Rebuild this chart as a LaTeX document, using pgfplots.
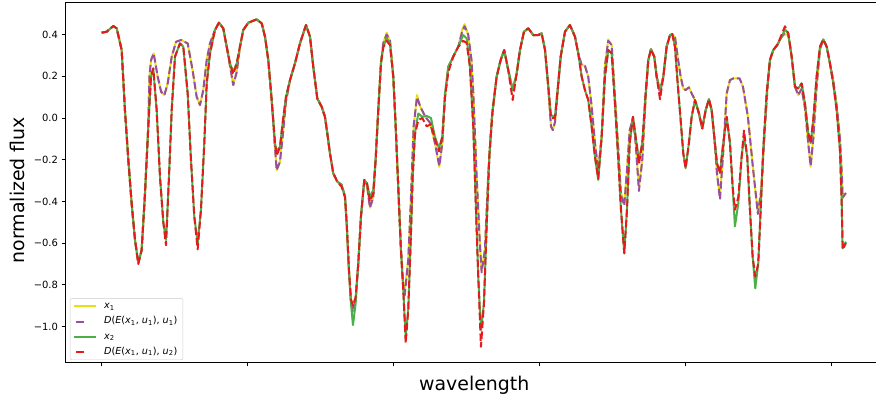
\documentclass[border=0pt]{standalone}
\usepackage{fontspec}
\setmainfont{DejaVu Sans}
\usepackage{pgfplots}
\pgfplotsset{compat=1.18}
\definecolor{cyel}{HTML}{E8E010}
\definecolor{cpur}{HTML}{984EA3}
\definecolor{cgrn}{HTML}{4DAF4A}
\definecolor{cred}{HTML}{E41A1C}
\pgfplotsset{
  solidleg/.style={legend image code/.code={\draw[##1, line width=2bp] (0bp,0bp) -- (22bp,0bp); \path (26.5bp,0bp);}},
  dashleg/.style={legend image code/.code={\draw[##1, solid, line width=2bp] (2.3bp,0bp) -- (10.6bp,0bp); \path (0bp,0bp) (26.5bp,0bp);}},
}
\begin{document}
\begin{tikzpicture}
\path[use as bounding box] (-65bp,-38bp) rectangle (811bp,362bp);
\begin{axis}[
  scale only axis, width=812bp, height=359.5bp,
  xmin=-50.3, xmax=1063, ymin=-1.170, ymax=0.554,
  xtick={0,200,400,600,800,1000}, xticklabels={},
  ytick={-1,-0.8,-0.6,-0.4,-0.2,0,0.2,0.4},
  yticklabels={−1.0,−0.8,−0.6,−0.4,−0.2,0.0,0.2,0.4},
  tick pos=left, tick align=outside, major tick length=3.5bp,
  every tick/.style={black, line width=0.8bp},
  axis line style={line width=0.8bp},
  ticklabel style={font=\fontsize{10}{12}\selectfont},
  xlabel={wavelength}, ylabel={normalized flux},
  every axis x label/.style={at={(axis description cs:0.504,-0.064)}, anchor=center, font=\fontsize{19}{22}\selectfont},
  every axis y label/.style={at={(axis description cs:-0.0591,0.478)}, anchor=center, rotate=90, font=\fontsize{19}{22}\selectfont},
  legend cell align=left,
  legend style={at={(axis description cs:0.006,0.0056)}, anchor=south west,
    draw=black!20, rounded corners=2bp, fill=white, fill opacity=0.8, text opacity=1,
    font=\fontsize{9.7}{11}\selectfont, inner xsep=2.5bp, inner ysep=0.5bp,
    nodes={text height=7.5bp, text depth=2.6bp, inner ysep=2.5bp, inner xsep=3bp}},
  solidleg,
]
\addplot[cyel, line width=2bp, line join=round] table {
x y
0 0.409
6.9 0.414
15.9 0.441
20.6 0.43
27.4 0.326
31.9 0.038
36.5 -0.20
41.1 -0.41
45.7 -0.585
50.2 -0.695
54.8 -0.633
59.4 -0.36
63.9 -0.04
65.4 0.198
67.7 0.278
71.3 0.31
76.8 0.198
81.5 0.126
86.0 0.11
90.5 0.166
96.0 0.294
102.0 0.366
108.9 0.374
117.9 0.358
124.6 0.23
130.2 0.102
134.8 0.062
139.3 0.134
144.0 0.278
148.5 0.358
155.3 0.422
160.8 0.457
166.7 0.43
171.4 0.342
175.9 0.25
180.4 0.158
185.1 0.22
189.6 0.342
194.1 0.422
201.0 0.457
212.5 0.473
219.4 0.454
223.9 0.39
228.4 0.278
233.1 0.086
237.6 -0.14
239.9 -0.25
244.4 -0.21
248.1 -0.09
252.7 0.08
258.2 0.182
265.0 0.262
271.9 0.358
280.1 0.446
285.6 0.39
290.1 0.246
295.6 0.094
301.6 0.054
306.1 0.006
309.3 -0.073
313.0 -0.17
317.5 -0.265
323.0 -0.305
329.0 -0.32
333.6 -0.377
335.9 -0.505
339.0 -0.73
341.8 -0.87
344.5 -0.90
348.2 -0.86
351.8 -0.697
355.5 -0.473
360.0 -0.297
363.7 -0.32
367.8 -0.43
372.4 -0.38
375.6 -0.20
379.2 0.038
382.9 0.262
386.1 0.36
390.7 0.409
395.3 0.37
399.8 0.198
403.1 -0.042
406.6 -0.33
410.3 -0.63
413.5 -0.80
415.5 -0.83
420.3 -0.68
423.6 -0.42
427.7 -0.04
432.3 0.11
436.9 0.054
443.8 0.006
450.6 -0.025
456.9 -0.12
462.9 -0.234
467.0 -0.12
470.7 0.10
475.2 0.246
482.0 0.294
488.9 0.342
494.0 0.42
497.5 0.45
502.5 0.40
507.0 0.278
509.5 0.12
514.1 -0.28
518.5 -0.60
520.9 -0.73
525.4 -0.633
529.9 -0.28
534.6 -0.01
541.5 0.198
547.0 0.278
551.9 0.326
557.4 0.23
563.5 0.134
569.0 0.214
573.5 0.326
579.0 0.414
584.9 0.43
591.7 0.398
598.6 0.398
603.2 0.406
607.8 0.326
612.3 0.15
616.0 -0.04
618.5 -0.058
621.5 -0.02
624.6 0.10
629.3 0.294
635.2 0.414
642.0 0.446
648.9 0.39
653.4 0.31
658.1 0.254
662.6 0.25
667.1 0.198
671.8 0.054
676.3 -0.12
680.8 -0.25
685.5 -0.09
690.0 0.25
694.5 0.377
699.2 0.35
703.7 0.10
708.3 -0.15
712.0 -0.36
716.5 -0.41
720.2 -0.25
723.9 -0.06
728.4 0.0
732.1 -0.12
736.6 -0.33
741.2 -0.20
745.8 0.10
749.4 0.278
753.1 0.33
757.6 0.294
760.9 0.198
765.5 0.134
770.0 0.198
774.6 0.342
779.2 0.398
782.3 0.40
786.0 0.39
789.7 0.294
793.8 0.198
797.4 0.142
800.6 0.134
805.1 0.147
808.9 0.118
813.4 0.086
818.9 0.022
823.4 -0.05
828.1 0.038
832.6 0.09
836.3 0.038
839.9 -0.09
843.6 -0.265
847.7 -0.377
852.2 -0.16
856.9 0.118
861.4 0.182
866.0 0.19
874.6 0.19
879.2 0.15
886.0 0.006
892.8 -0.234
899.7 -0.457
904.3 -0.345
908.9 -0.07
913.0 0.15
916.2 0.278
920.7 0.326
926.2 0.35
932.3 0.39
936.8 0.40
941.3 0.40
946.0 0.294
950.5 0.15
955.0 0.11
959.7 0.14
964.2 0.05
968.7 -0.12
972.0 -0.234
975.6 -0.10
980.2 0.15
984.8 0.33
989.3 0.377
994.0 0.342
998.5 0.262
1003.0 0.18
1007.7 0.06
1012.2 -0.10
1014.5 -0.25
1015.9 -0.385
1020.4 -0.358
};
\addlegendentry{\textit{x}\textsubscript{1}}
\addplot[cpur, line width=2bp, line join=round, dash pattern=on 7.4bp off 3.2bp, dashleg] table {
x y
0 0.409
6.9 0.414
15.9 0.441
20.6 0.43
27.4 0.326
31.9 0.038
36.5 -0.20
41.1 -0.41
45.7 -0.585
50.2 -0.695
54.8 -0.633
59.4 -0.36
63.9 -0.04
65.4 0.198
67.7 0.278
71.3 0.31
76.8 0.198
81.5 0.126
86.0 0.11
90.5 0.166
96.0 0.294
102.0 0.366
108.9 0.374
117.9 0.358
124.6 0.23
130.2 0.102
134.8 0.062
139.3 0.134
144.0 0.278
148.5 0.358
155.3 0.422
160.8 0.457
166.7 0.43
171.4 0.342
175.9 0.25
180.4 0.158
185.1 0.22
189.6 0.342
194.1 0.422
201.0 0.457
212.5 0.473
219.4 0.454
223.9 0.39
228.4 0.278
233.1 0.086
237.6 -0.14
239.9 -0.25
244.4 -0.21
248.1 -0.09
252.7 0.08
258.2 0.182
265.0 0.262
271.9 0.358
280.1 0.446
285.6 0.39
290.1 0.246
295.6 0.094
301.6 0.054
306.1 0.006
309.3 -0.073
313.0 -0.17
317.5 -0.265
323.0 -0.305
329.0 -0.32
333.6 -0.377
335.9 -0.505
339.0 -0.73
341.8 -0.89
344.5 -0.93
348.2 -0.87
351.8 -0.697
355.5 -0.473
360.0 -0.297
363.7 -0.32
367.8 -0.43
372.4 -0.38
375.6 -0.20
379.2 0.038
382.9 0.262
386.1 0.36
390.7 0.40
395.3 0.37
399.8 0.198
403.1 -0.042
406.6 -0.33
410.3 -0.63
413.5 -0.81
415.5 -0.85
420.3 -0.68
423.6 -0.42
427.7 -0.04
432.3 0.10
436.9 0.054
443.8 0.006
450.6 -0.025
456.9 -0.12
462.9 -0.23
467.0 -0.12
470.7 0.10
475.2 0.246
482.0 0.294
488.9 0.342
494.0 0.41
497.5 0.44
502.5 0.40
507.0 0.278
509.5 0.12
514.1 -0.28
518.5 -0.60
520.9 -0.74
525.4 -0.633
529.9 -0.28
534.6 -0.01
541.5 0.198
547.0 0.278
551.9 0.326
557.4 0.23
563.5 0.134
569.0 0.214
573.5 0.326
579.0 0.414
584.9 0.43
591.7 0.398
598.6 0.398
603.2 0.406
607.8 0.326
612.3 0.15
616.0 -0.04
618.5 -0.058
621.5 -0.02
624.6 0.10
629.3 0.294
635.2 0.414
642.0 0.446
648.9 0.39
653.4 0.31
658.1 0.254
662.6 0.25
667.1 0.198
671.8 0.054
676.3 -0.12
680.8 -0.25
685.5 -0.09
690.0 0.25
694.5 0.37
699.2 0.35
703.7 0.10
708.3 -0.15
712.0 -0.37
716.5 -0.42
720.2 -0.25
723.9 -0.06
728.4 0.0
732.1 -0.12
736.6 -0.35
741.2 -0.20
745.8 0.10
749.4 0.278
753.1 0.33
757.6 0.294
760.9 0.198
765.5 0.12
770.0 0.198
774.6 0.342
779.2 0.398
782.3 0.40
786.0 0.39
789.7 0.294
793.8 0.198
797.4 0.142
800.6 0.134
805.1 0.147
808.9 0.118
813.4 0.086
818.9 0.022
823.4 -0.05
828.1 0.038
832.6 0.09
836.3 0.038
839.9 -0.09
843.6 -0.265
847.7 -0.39
852.2 -0.16
856.9 0.118
861.4 0.182
866.0 0.19
874.6 0.19
879.2 0.15
886.0 0.006
892.8 -0.234
899.7 -0.46
904.3 -0.345
908.9 -0.07
913.0 0.15
916.2 0.278
920.7 0.326
926.2 0.35
932.3 0.39
936.8 0.41
941.3 0.40
946.0 0.294
950.5 0.15
955.0 0.11
959.7 0.14
964.2 0.05
968.7 -0.12
972.0 -0.23
975.6 -0.10
980.2 0.15
984.8 0.33
989.3 0.377
994.0 0.342
998.5 0.262
1003.0 0.18
1007.7 0.06
1012.2 -0.10
1014.5 -0.25
1015.9 -0.38
1020.4 -0.36
};
\addlegendentry{\textit{D}(\textit{E}(\textit{x}\textsubscript{1}, \textit{u}\textsubscript{1}), \textit{u}\textsubscript{1})}
\addplot[cgrn, line width=2bp, line join=round] table {
x y
0 0.409
6.9 0.414
15.9 0.441
20.6 0.43
27.4 0.326
31.9 0.038
36.5 -0.20
41.1 -0.41
45.7 -0.585
50.2 -0.695
54.8 -0.633
59.4 -0.36
63.9 -0.04
67.6 0.198
70.7 0.238
75.4 0.038
79.9 -0.28
84.5 -0.50
88.2 -0.585
92.3 -0.28
96.0 0.038
100.5 0.294
107.3 0.358
111.9 0.342
117.9 0.118
122.4 -0.20
127.0 -0.473
131.6 -0.60
136.1 -0.44
140.7 -0.12
144.0 0.166
148.5 0.31
155.3 0.422
160.8 0.457
166.7 0.43
171.4 0.342
175.9 0.262
180.4 0.222
185.1 0.262
189.6 0.342
194.1 0.422
201.0 0.457
212.5 0.473
219.4 0.454
223.9 0.39
228.4 0.278
233.1 0.086
237.6 -0.12
239.9 -0.16
244.4 -0.138
248.1 -0.025
252.7 0.102
258.2 0.182
265.0 0.262
271.9 0.358
280.1 0.446
285.6 0.39
290.1 0.246
295.6 0.094
301.6 0.054
306.1 0.006
309.3 -0.073
313.0 -0.17
317.5 -0.265
323.0 -0.305
329.0 -0.32
333.6 -0.377
335.9 -0.505
339.0 -0.73
341.8 -0.889
344.5 -0.993
348.2 -0.889
351.8 -0.697
355.5 -0.473
360.0 -0.297
363.7 -0.313
367.8 -0.377
372.4 -0.345
375.6 -0.20
379.2 0.038
382.9 0.262
386.1 0.342
390.7 0.382
395.3 0.358
399.8 0.198
403.1 -0.042
406.6 -0.33
410.3 -0.633
413.5 -0.825
416.8 -1.049
420.3 -0.92
423.6 -0.60
426.4 -0.28
429.5 -0.073
434.1 0.022
439.5 0.006
445.6 0.01
451.5 0.0
456.9 -0.09
462.4 -0.145
467.0 -0.09
470.7 0.118
475.2 0.246
482.0 0.294
488.9 0.342
495.7 0.398
500.4 0.382
504.9 0.246
509.5 -0.042
513.2 -0.44
516.3 -0.76
520.0 -1.017
524.1 -0.889
527.8 -0.52
531.4 -0.186
536.0 0.038
541.5 0.198
547.0 0.278
551.9 0.326
557.4 0.23
563.5 0.134
569.0 0.214
573.5 0.326
579.0 0.414
584.9 0.43
591.7 0.398
598.6 0.398
603.2 0.406
607.8 0.326
612.3 0.15
616.0 0.014
621.5 0.006
624.6 0.118
629.3 0.294
635.2 0.414
642.0 0.446
648.9 0.39
653.4 0.31
658.1 0.198
662.6 0.134
667.1 0.086
671.8 -0.042
676.3 -0.186
680.8 -0.297
685.5 -0.09
690.0 0.198
694.5 0.326
699.2 0.31
703.7 0.07
708.3 -0.20
712.0 -0.44
716.5 -0.649
720.2 -0.44
723.9 -0.12
728.4 0.006
732.1 -0.09
736.6 -0.20
741.2 -0.12
745.8 0.118
749.4 0.278
753.1 0.33
757.6 0.294
760.9 0.198
765.5 0.134
770.0 0.198
774.6 0.342
779.2 0.398
782.3 0.403
786.0 0.342
789.7 0.166
793.8 -0.01
797.4 -0.17
800.6 -0.241
805.1 -0.12
808.9 0.006
813.4 0.086
818.9 0.022
823.4 -0.05
828.1 0.038
832.6 0.09
836.3 0.038
839.9 -0.09
843.6 -0.217
847.7 -0.265
852.2 -0.12
856.9 0.006
861.4 -0.12
865.1 -0.33
868.2 -0.52
872.8 -0.41
877.4 -0.186
880.6 -0.09
885.1 -0.186
888.8 -0.44
892.5 -0.665
896.1 -0.817
900.2 -0.697
903.5 -0.44
907.0 -0.153
911.7 0.118
916.2 0.278
920.7 0.326
926.2 0.35
932.3 0.39
936.8 0.425
941.3 0.406
946.0 0.294
950.5 0.15
955.0 0.142
959.7 0.166
964.2 0.07
968.7 -0.073
972.0 -0.12
975.6 -0.01
980.2 0.198
984.8 0.342
989.3 0.377
994.0 0.342
998.5 0.262
1003.0 0.166
1007.7 0.038
1012.2 -0.153
1014.5 -0.39
1015.9 -0.625
1020.4 -0.593
};
\addlegendentry{\textit{x}\textsubscript{2}}
\addplot[cred, line width=2bp, line join=round, dash pattern=on 7.4bp off 3.2bp, dashleg] table {
x y
0 0.409
6.9 0.414
15.9 0.441
20.6 0.43
27.4 0.326
31.9 0.038
36.5 -0.20
41.1 -0.41
45.7 -0.585
50.2 -0.70
54.8 -0.633
59.4 -0.36
63.9 -0.04
67.6 0.198
70.7 0.238
75.4 0.038
79.9 -0.28
84.5 -0.50
88.2 -0.61
92.3 -0.28
96.0 0.038
100.5 0.294
107.3 0.358
111.9 0.342
117.9 0.118
122.4 -0.20
127.0 -0.473
131.6 -0.63
136.1 -0.44
140.7 -0.12
144.0 0.166
148.5 0.31
155.3 0.422
160.8 0.457
166.7 0.43
171.4 0.342
175.9 0.262
180.4 0.21
185.1 0.262
189.6 0.342
194.1 0.422
201.0 0.457
212.5 0.473
219.4 0.454
223.9 0.39
228.4 0.278
233.1 0.086
237.6 -0.12
239.9 -0.18
244.4 -0.14
248.1 -0.025
252.7 0.102
258.2 0.182
265.0 0.262
271.9 0.358
280.1 0.446
285.6 0.39
290.1 0.246
295.6 0.094
301.6 0.054
306.1 0.006
309.3 -0.073
313.0 -0.17
317.5 -0.265
323.0 -0.305
329.0 -0.33
333.6 -0.38
335.9 -0.505
339.0 -0.73
341.8 -0.87
344.5 -0.90
348.2 -0.86
351.8 -0.697
355.5 -0.473
360.0 -0.297
363.7 -0.313
367.8 -0.40
372.4 -0.36
375.6 -0.20
379.2 0.038
382.9 0.262
386.1 0.34
390.7 0.37
395.3 0.35
399.8 0.198
403.1 -0.042
406.6 -0.33
410.3 -0.633
413.5 -0.825
416.8 -1.08
420.3 -0.92
423.6 -0.60
426.4 -0.28
429.5 -0.08
434.1 -0.01
439.5 0.0
445.6 -0.04
451.5 -0.03
456.9 -0.10
462.4 -0.16
467.0 -0.09
470.7 0.10
475.2 0.22
482.0 0.294
488.9 0.342
495.7 0.37
500.4 0.36
504.9 0.246
509.5 -0.042
513.2 -0.44
516.3 -0.76
520.0 -1.097
524.1 -0.889
527.8 -0.52
531.4 -0.186
536.0 0.038
541.5 0.198
547.0 0.278
551.9 0.326
557.4 0.23
563.5 0.086
569.0 0.214
573.5 0.326
579.0 0.414
584.9 0.43
591.7 0.398
598.6 0.398
603.2 0.406
607.8 0.326
612.3 0.15
616.0 0.0
621.5 0.0
624.6 0.118
629.3 0.294
635.2 0.414
642.0 0.446
648.9 0.39
653.4 0.31
658.1 0.198
662.6 0.134
667.1 0.086
671.8 -0.042
676.3 -0.186
680.8 -0.29
685.5 -0.09
690.0 0.198
694.5 0.326
699.2 0.31
703.7 0.07
708.3 -0.20
712.0 -0.44
716.5 -0.649
720.2 -0.44
723.9 -0.12
728.4 0.006
732.1 -0.09
736.6 -0.22
741.2 -0.12
745.8 0.118
749.4 0.278
753.1 0.33
757.6 0.294
760.9 0.198
765.5 0.09
770.0 0.198
774.6 0.342
779.2 0.398
782.3 0.403
786.0 0.342
789.7 0.166
793.8 -0.01
797.4 -0.17
800.6 -0.241
805.1 -0.12
808.9 0.006
813.4 0.086
818.9 0.022
823.4 -0.05
828.1 0.038
832.6 0.09
836.3 0.038
839.9 -0.09
843.6 -0.217
847.7 -0.265
852.2 -0.12
856.9 0.006
861.4 -0.12
865.1 -0.33
868.2 -0.44
872.8 -0.38
877.4 -0.186
880.6 -0.06
885.1 -0.186
888.8 -0.44
892.5 -0.665
896.1 -0.76
900.2 -0.697
903.5 -0.44
907.0 -0.153
911.7 0.118
916.2 0.278
920.7 0.326
926.2 0.35
932.3 0.40
936.8 0.44
941.3 0.406
946.0 0.294
950.5 0.15
955.0 0.142
959.7 0.166
964.2 0.07
968.7 -0.073
972.0 -0.12
975.6 -0.01
980.2 0.198
984.8 0.342
989.3 0.377
994.0 0.342
998.5 0.262
1003.0 0.166
1007.7 0.038
1012.2 -0.153
1014.5 -0.39
1015.9 -0.63
1020.4 -0.60
};
\addlegendentry{\textit{D}(\textit{E}(\textit{x}\textsubscript{1}, \textit{u}\textsubscript{1}), \textit{u}\textsubscript{2})}
\end{axis}
\end{tikzpicture}
\end{document}
